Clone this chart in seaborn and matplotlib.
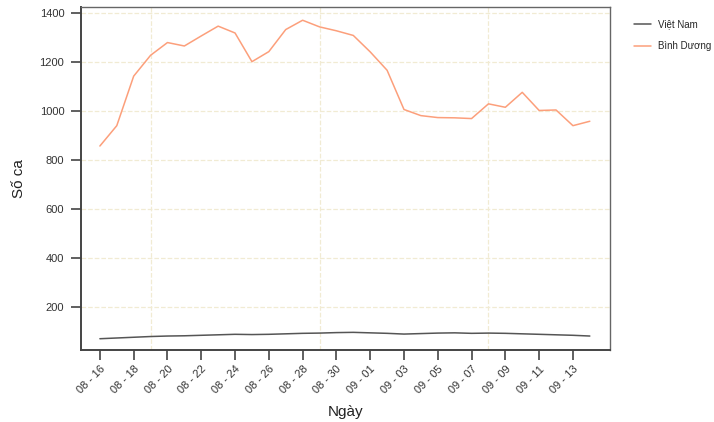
import matplotlib
matplotlib.use("Agg")
import matplotlib.pyplot as plt
import seaborn as sns
import pandas as pd

# Daily figures, 16 Aug - 14 Sep
dates = ["08 - 16", "08 - 17", "08 - 18", "08 - 19", "08 - 20", "08 - 21", "08 - 22",
         "08 - 23", "08 - 24", "08 - 25", "08 - 26", "08 - 27", "08 - 28", "08 - 29",
         "08 - 30", "08 - 31", "09 - 01", "09 - 02", "09 - 03", "09 - 04", "09 - 05",
         "09 - 06", "09 - 07", "09 - 08", "09 - 09", "09 - 10", "09 - 11", "09 - 12",
         "09 - 13", "09 - 14"]
viet_nam = [71, 74, 77, 80, 82, 83, 85, 87, 89, 88, 89, 91, 93, 94, 96,
            97, 95, 93, 90, 92, 94, 95, 93, 94, 93, 91, 89, 87, 85, 82]
binh_duong = [857, 940, 1142, 1227, 1279, 1265, 1306, 1346, 1318, 1201, 1242, 1332,
              1370, 1343, 1327, 1308, 1241, 1166, 1006, 981, 973, 972, 969, 1029,
              1015, 1076, 1002, 1004, 940, 958]
series_names = ["Việt Nam", "Bình Dương"]
series_colors = ["#555555", "#fc9f7b"]

df = pd.DataFrame({
    "day": list(range(len(dates))) * 2,
    "value": viet_nam + binh_duong,
    "series": [series_names[0]] * len(dates) + [series_names[1]] * len(dates),
})

sns.set_theme(style="white")
plt.rcParams["font.family"] = ["Liberation Sans", "DejaVu Sans"]

fig = plt.figure(figsize=(7.14, 4.22), dpi=100)
ax = fig.add_axes([0.1134, 0.1706, 0.7406, 0.8128])

sns.lineplot(data=df, x="day", y="value", hue="series", hue_order=series_names,
             palette=series_colors, linewidth=1.1, ax=ax, legend=True)

ax.set_xlim(-1.12, 30.18)
ax.set_ylim(25, 1424)

ax.set_xticks(range(0, len(dates), 2))
ax.set_xticklabels(dates[::2], rotation=45, ha="right", rotation_mode="anchor",
                   fontsize=8, color="#333333")
ax.set_xticks([3, 8, 13, 18, 23, 28], minor=True)
ax.set_yticks([200, 400, 600, 800, 1000, 1200, 1400])
ax.tick_params(axis="y", labelsize=8, labelcolor="#333333", pad=5)
ax.tick_params(axis="x", pad=3)
ax.tick_params(axis="both", which="major", direction="out", length=7, width=1.2,
               color="#444444", left=True, bottom=True)
ax.tick_params(axis="x", which="minor", length=0)

ax.grid(False)
ax.grid(axis="y", which="major", color="#f1ebd3", linestyle="--", linewidth=0.9)
ax.grid(axis="x", which="minor", color="#f1ebd3", linestyle="--", linewidth=0.9)
ax.set_axisbelow(True)

for side in ["top", "right"]:
    ax.spines[side].set_color("#666666")
    ax.spines[side].set_linewidth(1.0)
for side in ["left", "bottom"]:
    ax.spines[side].set_color("#444444")
    ax.spines[side].set_linewidth(1.4)

ax.set_xlabel("Ngày", fontsize=11, color="#222222", labelpad=7)
ax.set_ylabel("Số ca", fontsize=11, color="#222222", labelpad=10)

leg = ax.legend(loc="upper left", bbox_to_anchor=(0.888, 0.955),
                bbox_transform=fig.transFigure, frameon=False, borderpad=0,
                borderaxespad=0, fontsize=7, handlelength=1.75, handletextpad=0.75,
                labelspacing=1.25, title=None)
for line in leg.get_lines():
    line.set_linewidth(1.1)

fig.savefig("out.png", dpi=100, facecolor="white")
